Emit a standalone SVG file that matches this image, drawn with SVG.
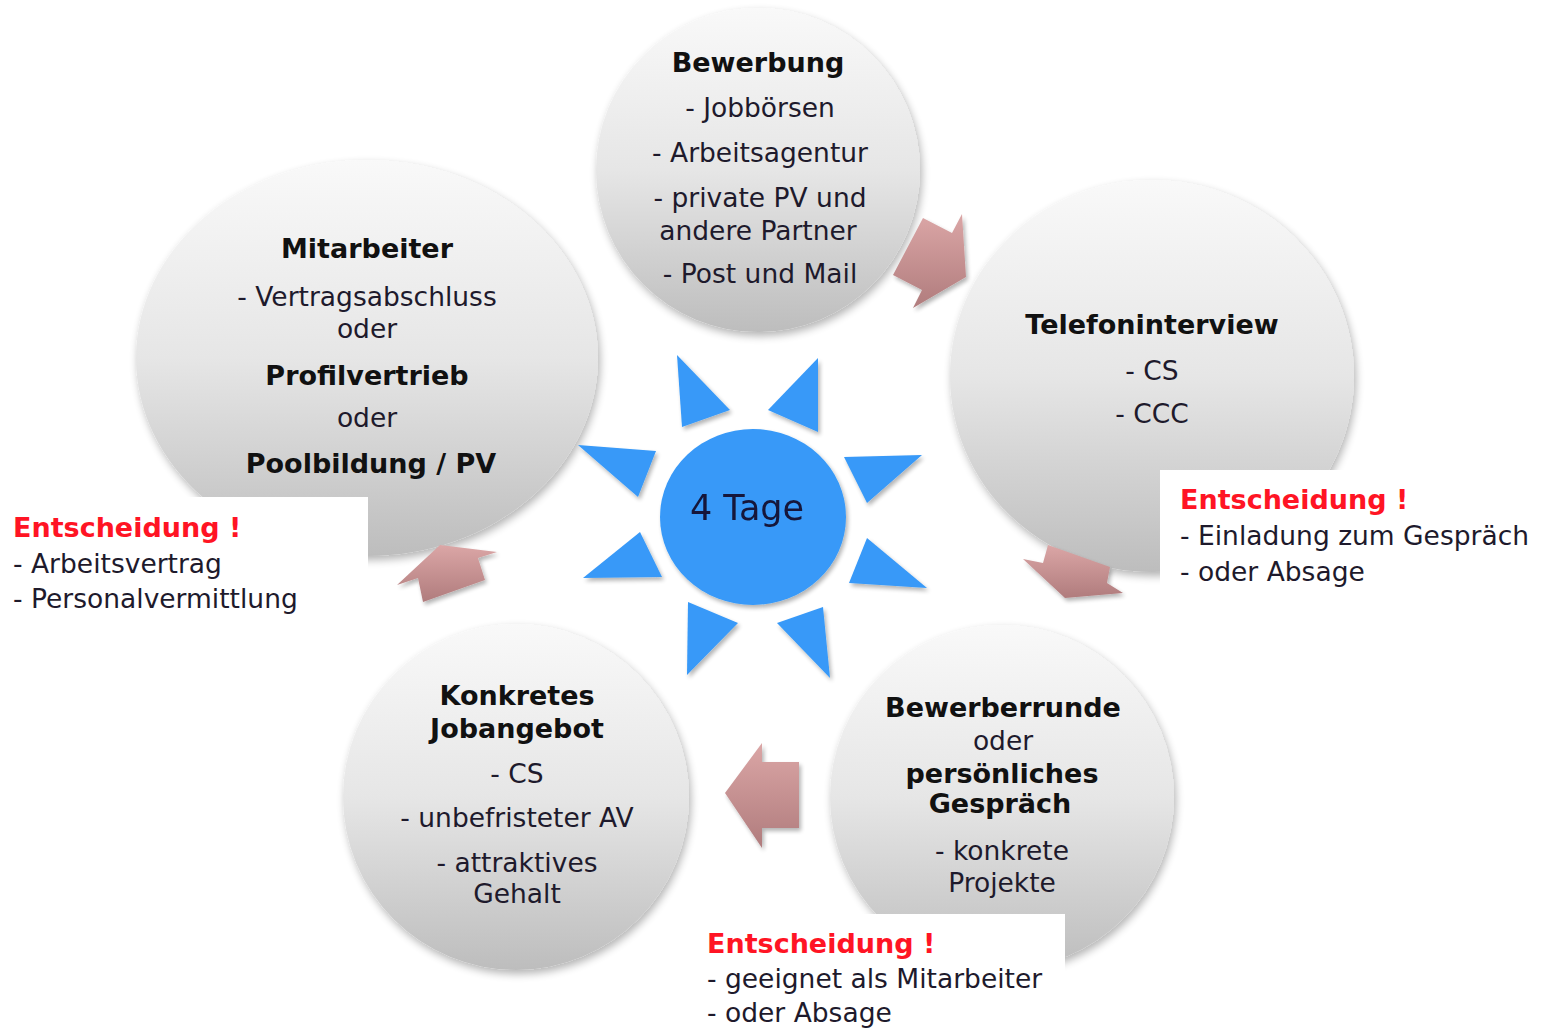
<svg xmlns="http://www.w3.org/2000/svg" width="1541" height="1031" viewBox="0 0 1541 1031">
<defs>
<linearGradient id="gCircle" x1="0" y1="0" x2="0" y2="1">
<stop offset="0" stop-color="#f9f9f9"/>
<stop offset="0.5" stop-color="#e6e6e6"/>
<stop offset="1" stop-color="#bdbdbd"/>
</linearGradient>
<linearGradient id="gArrow" x1="0" y1="0" x2="0" y2="1">
<stop offset="0" stop-color="#dba6a6"/>
<stop offset="1" stop-color="#b07c7d"/>
</linearGradient>
<filter id="shadow" x="-20%" y="-20%" width="140%" height="140%">
<feGaussianBlur in="SourceAlpha" stdDeviation="4"/>
<feOffset dx="2" dy="4" result="b"/>
<feComponentTransfer><feFuncA type="linear" slope="0.3"/></feComponentTransfer>
<feMerge><feMergeNode/><feMergeNode in="SourceGraphic"/></feMerge>
</filter>
<filter id="shadowS" x="-20%" y="-20%" width="140%" height="140%">
<feGaussianBlur in="SourceAlpha" stdDeviation="2"/>
<feOffset dx="2" dy="3" result="b"/>
<feComponentTransfer><feFuncA type="linear" slope="0.3"/></feComponentTransfer>
<feMerge><feMergeNode/><feMergeNode in="SourceGraphic"/></feMerge>
</filter>
</defs>
<style>
text{font-family:"DejaVu Sans","Liberation Sans",sans-serif;}
.c{fill:url(#gCircle);filter:url(#shadow);}
.t{font-size:27px;font-weight:bold;fill:#111;text-anchor:middle;}
.r{font-size:26.5px;fill:#1e1a2c;text-anchor:middle;}
.rl{font-size:26.5px;fill:#1e1a2c;}
.red{font-size:27px;font-weight:bold;fill:#ff1424;}
.ray{fill:#3799f8;}
.arrow{fill:url(#gArrow);filter:url(#shadowS);}
.box{fill:#ffffff;}
</style>
<rect width="1541" height="1031" fill="#ffffff"/>

<g id="node-bewerbung">
<circle class="c" cx="758" cy="170" r="162"/>
<text class="t" x="758" y="72">Bewerbung</text>
<text class="r" x="760" y="117">- Jobbörsen</text>
<text class="r" x="760" y="162">- Arbeitsagentur</text>
<text class="r" x="760" y="207">- private PV und</text>
<text class="r" x="758" y="240">andere Partner</text>
<text class="r" x="760" y="283">- Post und Mail</text>
</g>

<g id="node-telefoninterview">
<ellipse class="c" cx="1152" cy="376" rx="202" ry="196"/>
<text class="t" x="1152" y="334">Telefoninterview</text>
<text class="r" x="1152" y="380">- CS</text>
<text class="r" x="1152" y="423">- CCC</text>
</g>

<g id="node-bewerberrunde">
<circle class="c" cx="1002" cy="797" r="172"/>
<text class="t" x="1003" y="717">Bewerberrunde</text>
<text class="r" x="1003" y="750">oder</text>
<text class="t" x="1002" y="783">persönliches</text>
<text class="t" x="1000" y="813">Gespräch</text>
<text class="r" x="1002" y="860">- konkrete</text>
<text class="r" x="1002" y="892">Projekte</text>
</g>

<g id="node-jobangebot">
<circle class="c" cx="516" cy="797" r="173"/>
<text class="t" x="517" y="705">Konkretes</text>
<text class="t" x="517" y="738">Jobangebot</text>
<text class="r" x="517" y="783">- CS</text>
<text class="r" x="517" y="827">- unbefristeter AV</text>
<text class="r" x="517" y="872">- attraktives</text>
<text class="r" x="517" y="903">Gehalt</text>
</g>

<g id="node-mitarbeiter">
<ellipse class="c" cx="367" cy="358" rx="231" ry="198"/>
<text class="t" x="367" y="258">Mitarbeiter</text>
<text class="r" x="367" y="306">- Vertragsabschluss</text>
<text class="r" x="367" y="338">oder</text>
<text class="t" x="367" y="385">Profilvertrieb</text>
<text class="r" x="367" y="427">oder</text>
<text class="t" x="371" y="473">Poolbildung / PV</text>
</g>

<g id="note-mitarbeiter">
<rect class="box" x="0" y="497" width="368" height="125"/>
<text class="red" x="13" y="537">Entscheidung !</text>
<text class="rl" x="13" y="573">- Arbeitsvertrag</text>
<text class="rl" x="13" y="608">- Personalvermittlung</text>
</g>

<g id="note-telefoninterview">
<rect class="box" x="1160" y="470" width="381" height="128"/>
<text class="red" x="1180" y="509">Entscheidung !</text>
<text class="rl" x="1180" y="545">- Einladung zum Gespräch</text>
<text class="rl" x="1180" y="581">- oder Absage</text>
</g>

<g id="note-bewerberrunde">
<rect class="box" x="700" y="914" width="365" height="117"/>
<text class="red" x="707" y="953">Entscheidung !</text>
<text class="rl" x="707" y="988">- geeignet als Mitarbeiter</text>
<text class="rl" x="707" y="1022">- oder Absage</text>
</g>

<g id="sun" filter="url(#shadowS)">
<ellipse class="ray" cx="753" cy="517" rx="93" ry="88"/>
<polygon class="ray" points="677,355 730,410 682,427"/>
<polygon class="ray" points="818,358 768,410 818,432"/>
<polygon class="ray" points="578,445 656,451 638,497"/>
<polygon class="ray" points="844,457 922,455 867,503"/>
<polygon class="ray" points="640,532 662,577 583,578"/>
<polygon class="ray" points="867,538 927,588 849,583"/>
<polygon class="ray" points="688,602 738,623 687,675"/>
<polygon class="ray" points="777,623 823,607 830,678"/>
<text x="747" y="520" font-size="35" fill="#14183a" text-anchor="middle">4 Tage</text>
</g>

<g id="connectors">
<polygon class="arrow" points="923,218 952,233 962,214 966,277 913,308 922,290 893,275"/>
<polygon class="arrow" points="1048,545 1110,567 1107,583 1123,593 1065,598 1023,559 1043,563"/>
<polygon class="arrow" points="725,793 762,743 762,762 799,762 799,828 762,828 762,848"/>
<polygon class="arrow" points="440,545 497,552 478,558 485,580 423,602 418,578 397,585"/>
</g>
</svg>
